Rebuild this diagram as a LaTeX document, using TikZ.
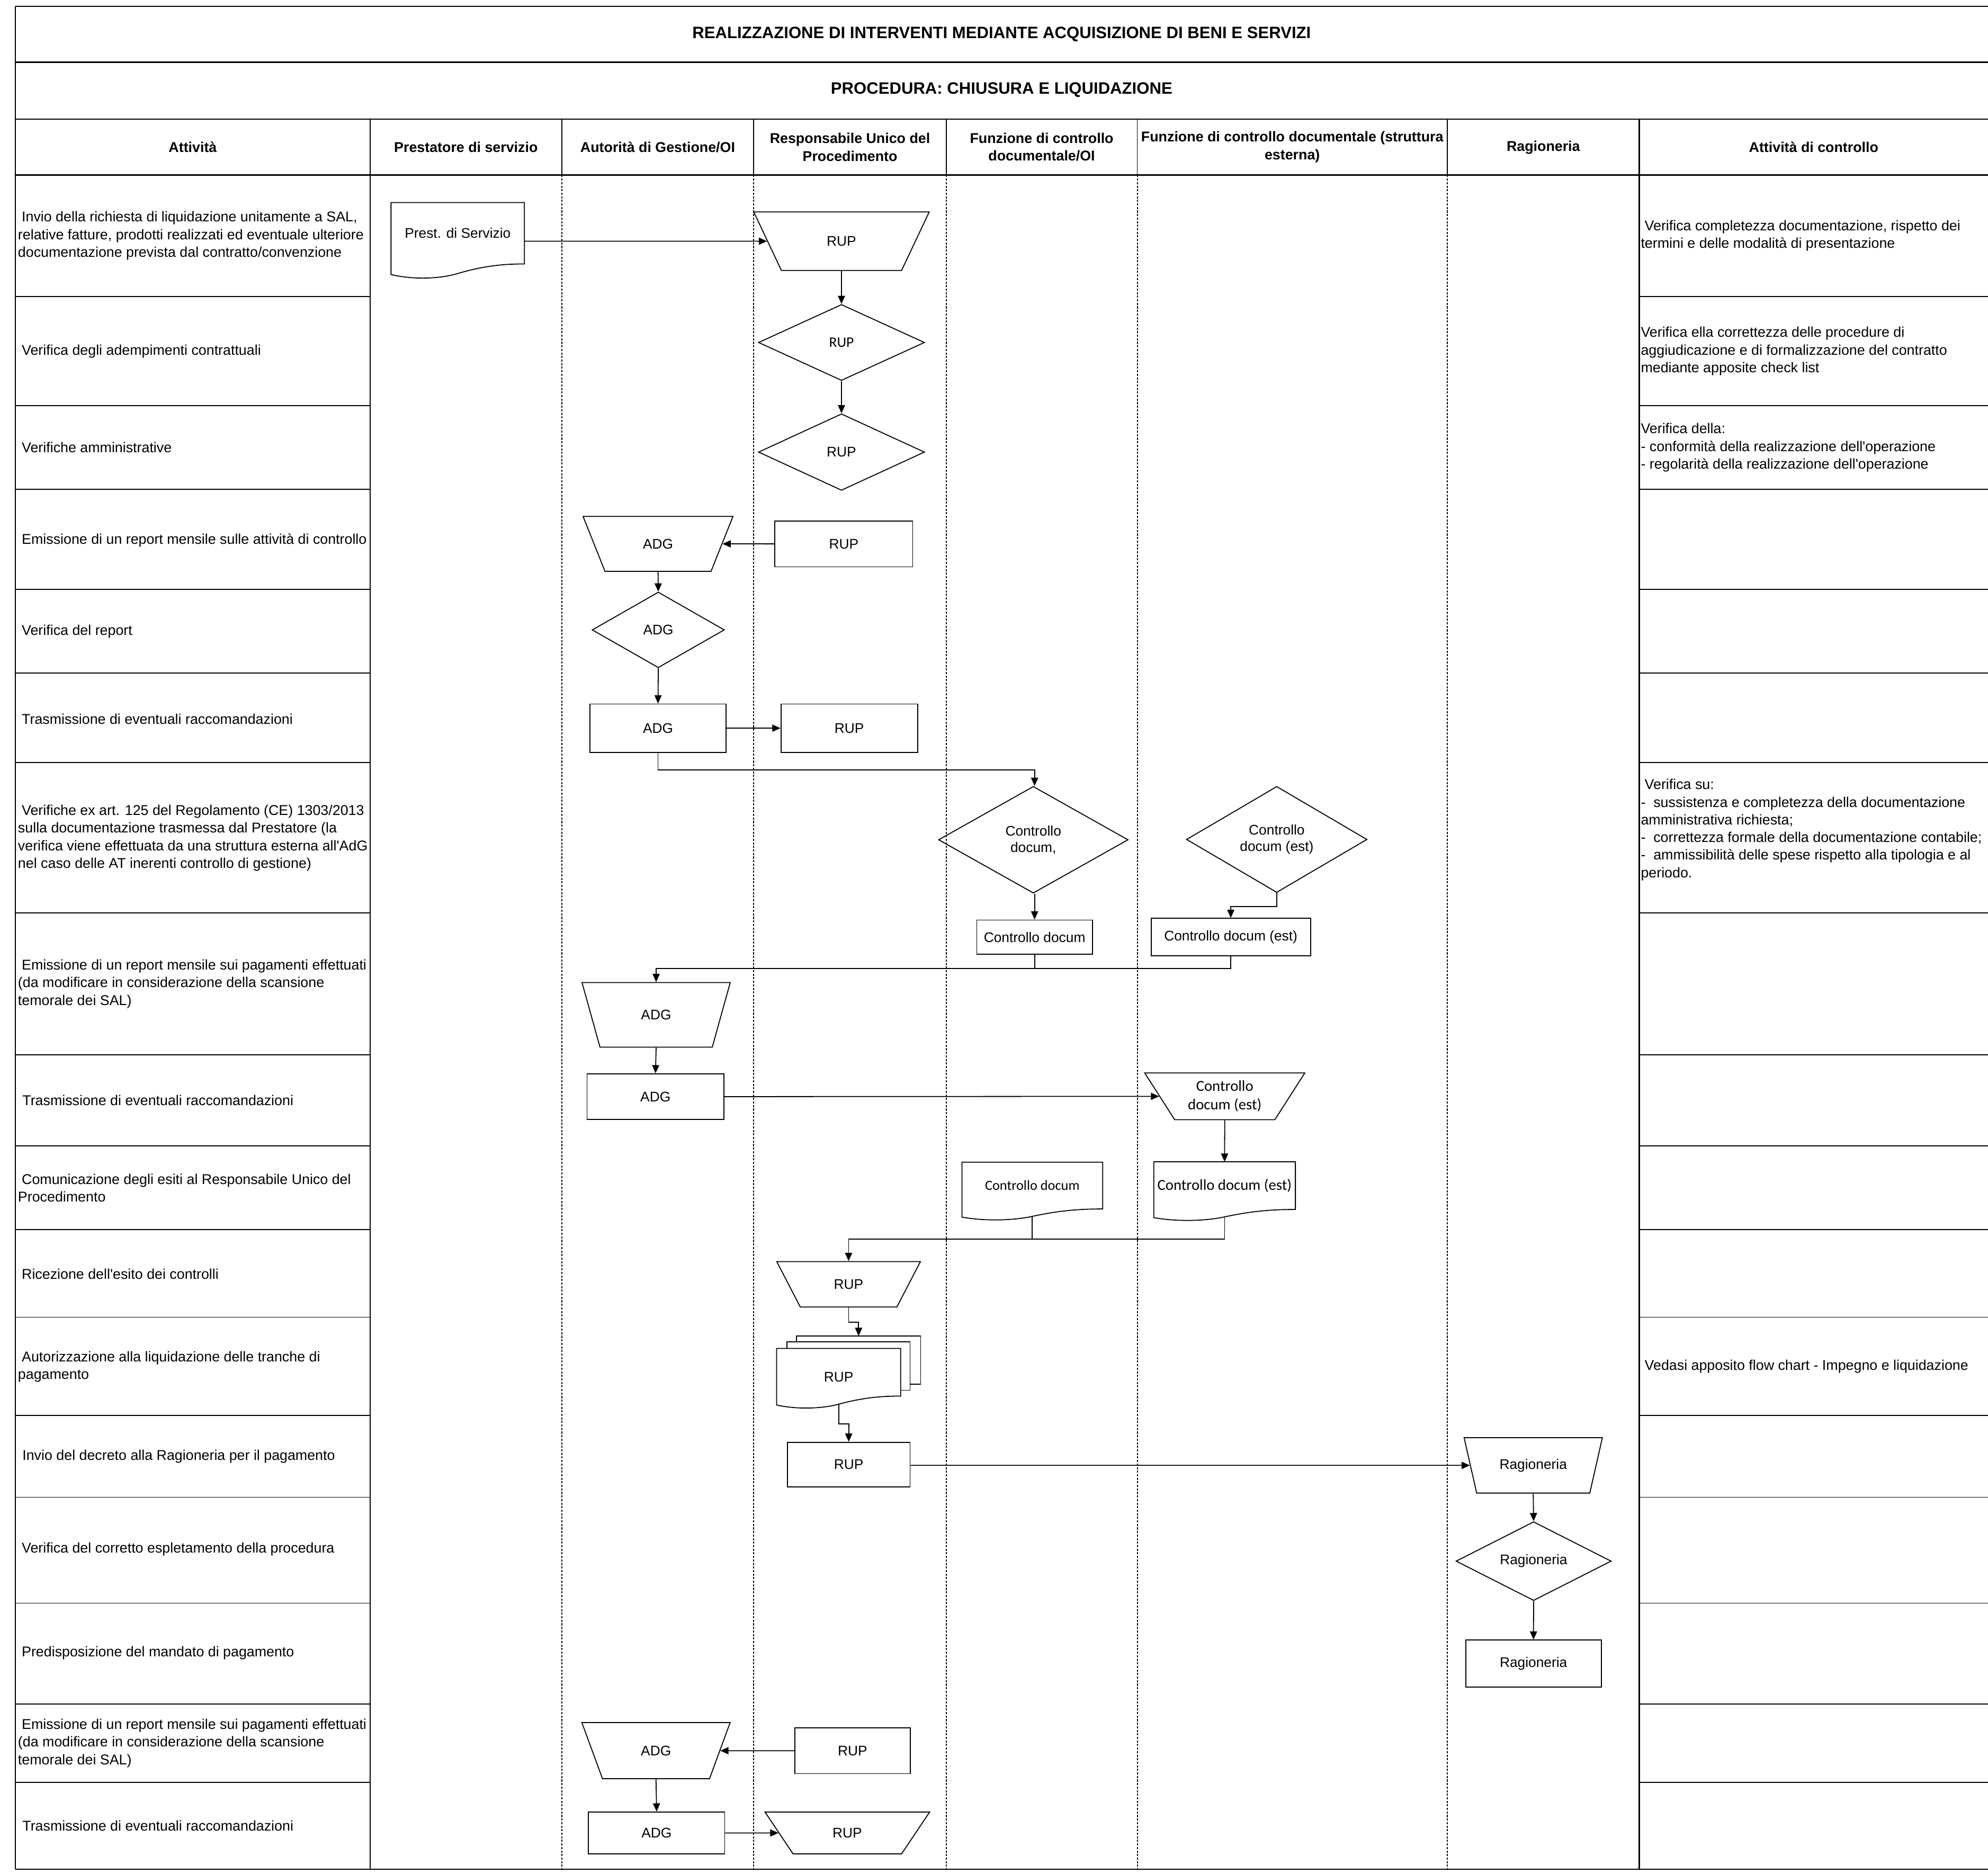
\documentclass[tikz,border=0pt]{standalone}
\usepackage{fontspec}
\setmainfont{Liberation Sans}
\newfontfamily\arialf{Liberation Sans}
\newfontfamily\calib{Carlito}
\usetikzlibrary{shapes.geometric,arrows.meta,calc}
\newcommand\docoutline[2]{%
  \draw[shp] (#1.north east) -- (#1.north west) -- ($(#1.south west)+(0,0.75*#2)$)
   .. controls ($(#1.south west)!0.15!(#1.south east)+(0,1.1*#2)$) and ($(#1.south west)!0.35!(#1.south east)+(0,1.1*#2)$) .. ($(#1.south west)!0.5!(#1.south east)+(0,0.68*#2)$)
   .. controls ($(#1.south west)!0.68!(#1.south east)+(0,0.18*#2)$) and ($(#1.south west)!0.82!(#1.south east)$) .. (#1.south east) -- cycle;}
\begin{document}
\begin{tikzpicture}[x=1pt,y=-1pt,
  heavy/.style={line width=1pt},
  rowline/.style={line width=0.75pt},
  lane/.style={line width=0.8pt, dash pattern=on 1.7pt off 1.1pt},
  shp/.style={line width=0.75pt},
  arr/.style={line width=0.75pt, -{Triangle[length=6.5pt,width=5.6pt]}},
  ln/.style={line width=0.75pt},
  sfont/.style={font=\arialf\fontsize{11}{13}\selectfont},
  box/.style 2 args={draw, shp, rectangle, minimum width=#1, minimum height=#2, inner sep=0pt, align=center, sfont},
  dia/.style 2 args={draw, shp, diamond, minimum width=#1, minimum height=#2, inner sep=0pt, aspect=1.8, align=center, sfont},
  trapz/.style n args={3}{draw, shp, trapezium, shape border rotate=180, trapezium stretches=true, minimum width=#1, minimum height=#2, trapezium left angle=#3, trapezium right angle=#3, inner sep=1pt, align=center, sfont},
  docn/.style 2 args={rectangle, minimum width=#1, minimum height=#2, inner sep=0pt, align=center, sfont},
  lt/.style={anchor=west, align=left, inner sep=0pt, font=\arialf\fontsize{11.2}{13.9}\selectfont},
  hd/.style={align=center, inner sep=0pt, font=\arialf\bfseries\fontsize{11.2}{14}\selectfont},
  ttl/.style={align=center, inner sep=0pt, font=\arialf\bfseries\fontsize{13}{16}\selectfont}
]
\useasboundingbox (0,0) rectangle (1568,1478);

% ---------- table ----------
\foreach \yy in {5,49,94,138,1474.5} {\draw[heavy] (12,\yy) -- (1568,\yy);}
\draw[heavy] (12,5) -- (12,1474.5);
\draw[heavy] (292,94) -- (292,1474.5);
\draw[heavy] (1293,94) -- (1293,1474.5);
\foreach \xx in {443,594.5,746.3,897,1141.5} {
  \draw[rowline] (\xx,94) -- (\xx,138);
  \draw[lane] (\xx,138) -- (\xx,1474.5);
}
\foreach \yy in {234,320,386,465,531,601.5,720,832,904,970,1039,1116.5,1181,1264.5,1344,1406} {
  \draw[rowline] (12,\yy) -- (292,\yy);
  \draw[rowline] (1293,\yy) -- (1568,\yy);
}

% ---------- headers ----------
\node[ttl] (title) at (790,27) {REALIZZAZIONE DI INTERVENTI MEDIANTE ACQUISIZIONE DI BENI E SERVIZI};
\node[ttl] (proc) at (790,71) {PROCEDURA: CHIUSURA E LIQUIDAZIONE};
\node[hd] (h1) at (152,116) {Attività};
\node[hd] (h2) at (367.5,116) {Prestatore di servizio};
\node[hd] (h3) at (518.75,116) {Autorità di Gestione/OI};
\node[hd] (h4) at (670.4,116) {Responsabile Unico del\\Procedimento};
\node[hd] (h5) at (821.6,116) {Funzione di controllo\\documentale/OI};
\node[hd] (h6) at (1019.25,116) {Funzione di controllo documentale (struttura\\esterna)};
\node[hd] (h7) at (1217.25,116.5) {Ragioneria};
\node[hd] (h8) at (1430.5,116) {Attività di controllo};

% ---------- left column ----------
\node[lt] (t1) at (14,186) {\hspace*{3pt}Invio della richiesta di liquidazione unitamente a SAL,\\relative fatture, prodotti realizzati ed eventuale ulteriore\\documentazione prevista dal contratto/convenzione};
\node[lt] (t2) at (14,277) {\hspace*{3pt}Verifica degli adempimenti contrattuali};
\node[lt] (t3) at (14,353) {\hspace*{3pt}Verifiche amministrative};
\node[lt] (t4) at (14,426) {\hspace*{3pt}Emissione di un report mensile sulle attività di controllo};
\node[lt] (t5) at (14,498) {\hspace*{3pt}Verifica del report};
\node[lt] (t6) at (14,567) {\hspace*{3pt}Trasmissione di eventuali raccomandazioni};
\node[lt] (t7) at (14,661) {\hspace*{3pt}Verifiche ex art. 125 del Regolamento (CE) 1303/2013\\sulla documentazione trasmessa dal Prestatore (la\\verifica viene effettuata da una struttura esterna all'AdG\\nel caso delle AT inerenti controllo di gestione)};
\node[lt] (t8) at (14,776) {\hspace*{3pt}Emissione di un report mensile sui pagamenti effettuati\\(da modificare in considerazione della scansione\\temorale dei SAL)};
\node[lt] (t9) at (14,868) {\hspace*{3.5pt}Trasmissione di eventuali raccomandazioni};
\node[lt] (t10) at (14,937) {\hspace*{3pt}Comunicazione degli esiti al Responsabile Unico del\\Procedimento};
\node[lt] (t11) at (14,1005) {\hspace*{3pt}Ricezione dell'esito dei controlli};
\node[lt] (t12) at (14,1078) {\hspace*{3pt}Autorizzazione alla liquidazione delle tranche di\\pagamento};
\node[lt] (t13) at (14,1149) {\hspace*{3.5pt}Invio del decreto alla Ragioneria per il pagamento};
\node[lt] (t14) at (14,1222) {\hspace*{3pt}Verifica del corretto espletamento della procedura};
\node[lt] (t15) at (14,1304) {\hspace*{3pt}Predisposizione del mandato di pagamento};
\node[lt] (t16) at (14,1375) {\hspace*{3pt}Emissione di un report mensile sui pagamenti effettuati\\(da modificare in considerazione della scansione\\temorale dei SAL)};
\node[lt] (t17) at (14,1440) {\hspace*{3.5pt}Trasmissione di eventuali raccomandazioni};

% ---------- right column ----------
\node[lt] (r1) at (1294,186) {\hspace*{3pt}Verifica completezza documentazione, rispetto dei\\termini e delle modalità di presentazione};
\node[lt] (r2) at (1294,277) {Verifica ella correttezza delle procedure di\\aggiudicazione e di formalizzazione del contratto\\mediante apposite check list};
\node[lt] (r3) at (1294,353) {Verifica della:\\- conformità della realizzazione dell'operazione\\- regolarità della realizzazione dell'operazione};
\node[lt] (r7) at (1294,654.5) {\hspace*{3pt}Verifica su:\\-\ \ sussistenza e completezza della documentazione\\amministrativa richiesta;\\-\ \ correttezza formale della documentazione contabile;\\-\ \ ammissibilità delle spese rispetto alla tipologia e al\\periodo.};
\node[lt] (r12) at (1294,1078) {\hspace*{3pt}Vedasi apposito flow chart - Impegno e liquidazione};

% ---------- flow shapes ----------
\node[docn={104.8}{48}] (prest) at (361,184) {Prest. di Servizio};
\docoutline{prest}{11.1}
\node[trapz={138.7}{46.1}{59.1}] (rup1) at (663.7,190.25) {RUP};
\node[dia={131}{60}, font=\calib\fontsize{11.5}{13}\selectfont] (rupd2) at (663.7,270.15) {RUP};
\node[dia={131}{60.4}] (rupd3) at (663.7,356.6) {RUP};

\node[trapz={118.6}{43.3}{61.4}] (adg4) at (519,429) {ADG};
\node[box={108.7}{36.3}] (rup4) at (665.5,429) {RUP};
\node[dia={104.3}{59.7}] (adgd5) at (519.2,496.85) {ADG};
\node[box={107.4}{38.1}] (adg6) at (519,574.35) {ADG};
\node[box={107.7}{38.1}] (rup6) at (669.85,574.35) {RUP};

\node[dia={149.6}{84.2}] (cd7) at (815,662.4) {Controllo\\docum,};
\node[dia={142.4}{83.7}] (cde7) at (1007,662.15) {Controllo\\docum (est)};
\node[box={91.2}{26.9}] (cdr7) at (816,739.15) {Controllo docum};
\node[box={125.7}{29.4}] (cder7) at (970.75,739.1) {Controllo docum (est)};

\node[trapz={117}{51}{67.1}] (adg8) at (517.5,800.5) {ADG};
\node[box={108}{36}] (adg9) at (517,865) {ADG};
\node[trapz={126.4}{36.9}{55.9}, font=\calib\fontsize{12}{14.6}\selectfont] (ctrap9) at (966,864.75) {Controllo\\docum (est)};

\node[docn={110.6}{36.5}, font=\calib\fontsize{11}{13}\selectfont] (doc1) at (814.2,935.15) {Controllo docum};
\docoutline{doc1}{8.6}
\node[docn={111.3}{37.2}, font=\calib\fontsize{12}{14}\selectfont] (doc2) at (965.85,935.2) {Controllo docum (est)};
\docoutline{doc2}{8.6}

\node[trapz={113.6}{35.8}{57.6}] (rup11) at (669.3,1013) {RUP};

% multi-document
\draw[shp] (628.3,1058.5) -- (628.3,1053.8) -- (726.1,1053.8) -- (726.1,1091.8) -- (717.8,1091.8);
\draw[shp] (620.7,1063.8) -- (620.7,1058.5) -- (717.8,1058.5) -- (717.8,1096.6) -- (710.2,1096.6);
\node[docn={97.5}{37.2}] (mdoc) at (661.45,1082.4) {\raisebox{-3.6pt}[\height][\depth]{RUP}};
\docoutline{mdoc}{9.4}
\coordinate (mdocTop) at (677.2,1053.8);

\node[box={96.8}{35.4}] (rup13) at (669.4,1155.3) {RUP};
\node[trapz={109.2}{43.7}{63.4}] (ragtrap) at (1209.3,1155.85) {Ragioneria};
\node[dia={122.4}{62.2}] (ragdia) at (1209.6,1231.4) {Ragioneria};
\node[box={107}{37}] (ragrect) at (1209.5,1312.2) {Ragioneria};

\node[trapz={117.1}{44.3}{63}] (adg16) at (517.4,1380.85) {ADG};
\node[box={91.2}{36.1}] (rup16) at (672.4,1381) {RUP};
\node[box={107.4}{33}] (adg17) at (517.9,1445.8) {ADG};
\node[trapz={130}{33}{56}] (rup17) at (668.3,1445.8) {RUP};

% wave attach points
\coordinate (doc1w) at ($(doc1.south)+(0,0.68*8.6)$);
\coordinate (doc2w) at ($(doc2.south)+(0,0.68*8.6)$);
\coordinate (mdocw) at ($(mdoc.south)+(0,0.68*9.4)$);
\coordinate (j10) at (965.85,977.4);

% ---------- connectors ----------
\draw[arr] (prest.east |- rup1) -- (rup1);
\draw[arr] (rup1.south) -- (rupd2.north);
\draw[arr] (rupd2.south) -- (rupd3.north);
\draw[arr] (rup4.west) -- (adg4);
\draw[arr] (adg4.south) -- (adgd5.north);
\draw[arr] (adgd5.south) -- (adg6.north);
\draw[arr] (adg6.east) -- (rup6.west);
\draw[arr] (adg6.south) -- ++(0,13.5) -| (cdr7.north |- cd7.north);
\draw[arr] (cdr7.north |- cd7.south) -- (cdr7.north);
\draw[arr] (cde7.south) -- ++(0,10.6) -| (cder7.north);
\draw[ln] (cdr7.south) -- ++(0,11.1);
\draw[arr] (cder7.south) -- ++(0,9.9) -| (adg8.north);
\draw[arr] (adg8.south) -- (adg9.north);
\draw[arr] (adg9.east) -- (ctrap9);
\draw[arr] (ctrap9.south) -- (doc2.north);
\draw[ln] (doc1w) -- (doc1w |- j10);
\draw[arr] (doc2w) -- (j10) -| (rup11.north);
\draw[arr] (rup11.south) -- ++(0,11.6) -| (mdocTop);
\draw[arr] (mdocw) -- ++(0,15.6) -| (rup13.north);
\draw[arr] (rup13.east |- ragtrap) -- (ragtrap);
\draw[arr] (ragtrap.south) -- (ragdia.north);
\draw[arr] (ragdia.south) -- (ragrect.north);
\draw[arr] (rup16.west) -- (adg16);
\draw[arr] (adg16.south) -- (adg17.north);
\draw[arr] (adg17.east) -- (rup17);
\end{tikzpicture}
\end{document}
